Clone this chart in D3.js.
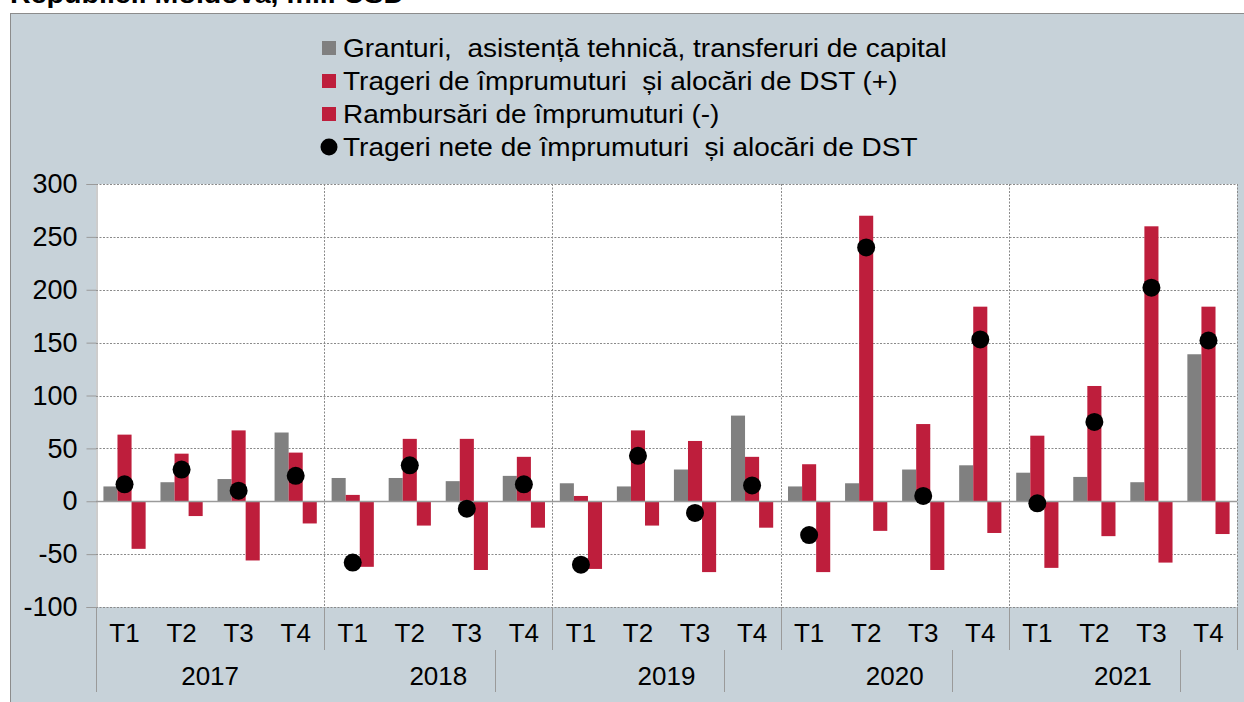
<!DOCTYPE html>
<html>
<head>
<meta charset="utf-8">
<script src="https://cdn.jsdelivr.net/npm/d3@7"></script>
<style>
  body { margin: 0; background: #fff; }
  svg { display: block; font-family: "Liberation Sans", Arial, sans-serif; }
</style>
</head>
<body>
<svg id="svg" width="1244" height="702"></svg>
<script>
// data (mil. USD)
var years = ["2017", "2018", "2019", "2020", "2021"];
var quarters = ["T1", "T2", "T3", "T4"];
var grants = [14, 18, 21, 65, 22, 22, 19, 24, 17, 14, 30, 81, 14, 17, 30, 34, 27, 23, 18, 139];
var drawings = [63, 45, 67, 46, 6, 59, 59, 42, 5, 67, 57, 42, 35, 270, 73, 184, 62, 109, 260, 184];
var repayments = [-45, -14, -56, -21, -62, -23, -65, -25, -64, -23, -67, -25, -67, -28, -65, -30, -63, -33, -58, -31];
var netDrawings = [16, 30, 10, 24, -58, 34, -7, 16, -60, 43, -11, 15, -32, 240, 5, 153, -2, 75, 202, 152];
var yTicks = [-100, -50, 0, 50, 100, 150, 200, 250, 300];
var legendLabels = [
  "Granturi,  asistență tehnică, transferuri de capital",
  "Trageri de împrumuturi  și alocări de DST (+)",
  "Rambursări de împrumuturi (-)",
  "Trageri nete de împrumuturi  și alocări de DST"
];

var grey = "#808080", red = "#BE1E3C", bg = "#C7D2D9", lineCol = "#9a9a9a";

var keys = [];
years.forEach(function(y) { quarters.forEach(function(q) { keys.push(y + q); }); });
var rows = keys.map(function(k, i) {
  return { key: k, year: k.slice(0, 4), q: k.slice(4), g: grants[i], p: drawings[i], n: repayments[i], net: netDrawings[i] };
});

var pL = 96, pR = 1237, pT = 184, pB = 607;

var svg = d3.select("#svg");

// title line (mostly cut off at the top) + outer frame
svg.append("text")
  .attr("transform", "translate(10,3) scale(1.1,1)")
  .attr("font-size", 26).attr("font-weight", "bold")
  .text("Republicii Moldova, mil. USD");
svg.append("rect")
  .attr("x", 10.5).attr("y", 13.5)
  .attr("width", 1250).attr("height", 700)
  .attr("fill", bg).attr("stroke", "#8c8c8c");

var x = d3.scaleBand().domain(keys).range([pL, pR]).paddingInner(0.26).paddingOuter(0.13);
var x1 = d3.scaleBand().domain(["g", "p", "n"]).range([0, x.bandwidth()]);
var y = d3.scaleLinear().domain([-100, 300]).range([pB, pT]);

function edge(k) { return x(k) - x.step() * x.paddingInner() / 2; }
function crisp(v) { return Math.round(v) + 0.5; }

svg.append("rect")
  .attr("x", pL).attr("y", pT)
  .attr("width", pR - pL).attr("height", pB - pT)
  .attr("fill", "#fff");

// grid
svg.append("g").selectAll("line")
  .data(yTicks.filter(function(d) { return d !== 0; }))
  .enter().append("line")
  .attr("x1", pL).attr("x2", pR)
  .attr("y1", function(d) { return crisp(y(d)); })
  .attr("y2", function(d) { return crisp(y(d)); })
  .attr("stroke", "#8a8a8a").attr("stroke-dasharray", "2,1.5");

var vlines = years.slice(1).map(function(yr) { return edge(yr + "T1"); }).concat([pR]);
svg.append("g").selectAll("line")
  .data(vlines)
  .enter().append("line")
  .attr("x1", crisp).attr("x2", crisp)
  .attr("y1", pT).attr("y2", pB)
  .attr("stroke", "#8a8a8a").attr("stroke-dasharray", "2,1.5");

// bars
var grp = svg.append("g").selectAll("g")
  .data(rows)
  .enter().append("g")
  .attr("transform", function(d) { return "translate(" + x(d.key) + ",0)"; });

grp.selectAll("rect")
  .data(function(d) { return [["g", d.g, grey], ["p", d.p, red], ["n", d.n, red]]; })
  .enter().append("rect")
  .attr("x", function(d) { return x1(d[0]); })
  .attr("width", x1.bandwidth())
  .attr("y", function(d) { return y(Math.max(0, d[1])); })
  .attr("height", function(d) { return Math.abs(y(d[1]) - y(0)); })
  .attr("fill", function(d) { return d[2]; });

// zero line
svg.append("line")
  .attr("x1", pL).attr("x2", pR)
  .attr("y1", crisp(y(0))).attr("y2", crisp(y(0)))
  .attr("stroke", lineCol).attr("stroke-width", 1.5);

// net dots
svg.append("g").selectAll("circle")
  .data(rows)
  .enter().append("circle")
  .attr("cx", function(d) { return x(d.key) + x1("p") + x1.bandwidth() / 2; })
  .attr("cy", function(d) { return y(d.net); })
  .attr("r", 9)
  .attr("fill", "#000");

// y axis
var yAxis = svg.append("g")
  .attr("transform", "translate(" + (pL + 0.5) + ",0)")
  .call(d3.axisLeft(y).tickValues(yTicks).tickSize(10).tickPadding(9)
    .tickFormat(function(d) { return String(d); }));
yAxis.select(".domain").attr("stroke", lineCol);
yAxis.selectAll(".tick line").attr("stroke", lineCol);
yAxis.selectAll(".tick text")
  .attr("font-size", 27).attr("fill", "#000")
  .attr("font-family", "Liberation Sans, Arial, sans-serif");

// category axis: quarters
svg.append("g").selectAll("text")
  .data(rows)
  .enter().append("text")
  .attr("x", function(d) { return x(d.key) + x.bandwidth() / 2; })
  .attr("y", 642)
  .attr("text-anchor", "middle")
  .attr("font-size", 26)
  .text(function(d) { return d.q; });

svg.append("g").selectAll("line")
  .data([pL].concat(vlines))
  .enter().append("line")
  .attr("x1", crisp).attr("x2", crisp)
  .attr("y1", pB).attr("y2", 650)
  .attr("stroke", lineCol);

// category axis: years
svg.append("g").selectAll("text")
  .data(years)
  .enter().append("text")
  .attr("x", function(yr) { return (edge(yr + "T1") + edge(yr + "T4") + x.step()) / 2; })
  .attr("y", 685)
  .attr("text-anchor", "middle")
  .attr("font-size", 26)
  .text(function(yr) { return yr; });

var sepY = [pL].concat(years.slice(1).map(function(yr) { return edge(yr + "T4"); }));
svg.append("g").selectAll("line")
  .data(sepY)
  .enter().append("line")
  .attr("x1", crisp).attr("x2", crisp)
  .attr("y1", 650).attr("y2", 692)
  .attr("stroke", lineCol);

// legend
var leg = svg.append("g").attr("transform", "translate(322,48)");
var item = leg.selectAll("g")
  .data(legendLabels)
  .enter().append("g")
  .attr("transform", function(d, i) { return "translate(0," + (i * 33) + ")"; });
item.each(function(d, i) {
  var g = d3.select(this);
  if (i < 3) {
    g.append("rect").attr("x", 0).attr("y", -7).attr("width", 14).attr("height", 14)
      .attr("fill", i === 0 ? grey : red);
  } else {
    g.append("circle").attr("cx", 7).attr("cy", 0).attr("r", 8.5).attr("fill", "#000");
  }
  g.append("text")
    .attr("transform", "translate(21,0) scale(1.12,1)")
    .attr("dy", "0.36em")
    .attr("font-size", 25)
    .style("white-space", "pre")
    .text(d);
});
</script>
</body>
</html>
